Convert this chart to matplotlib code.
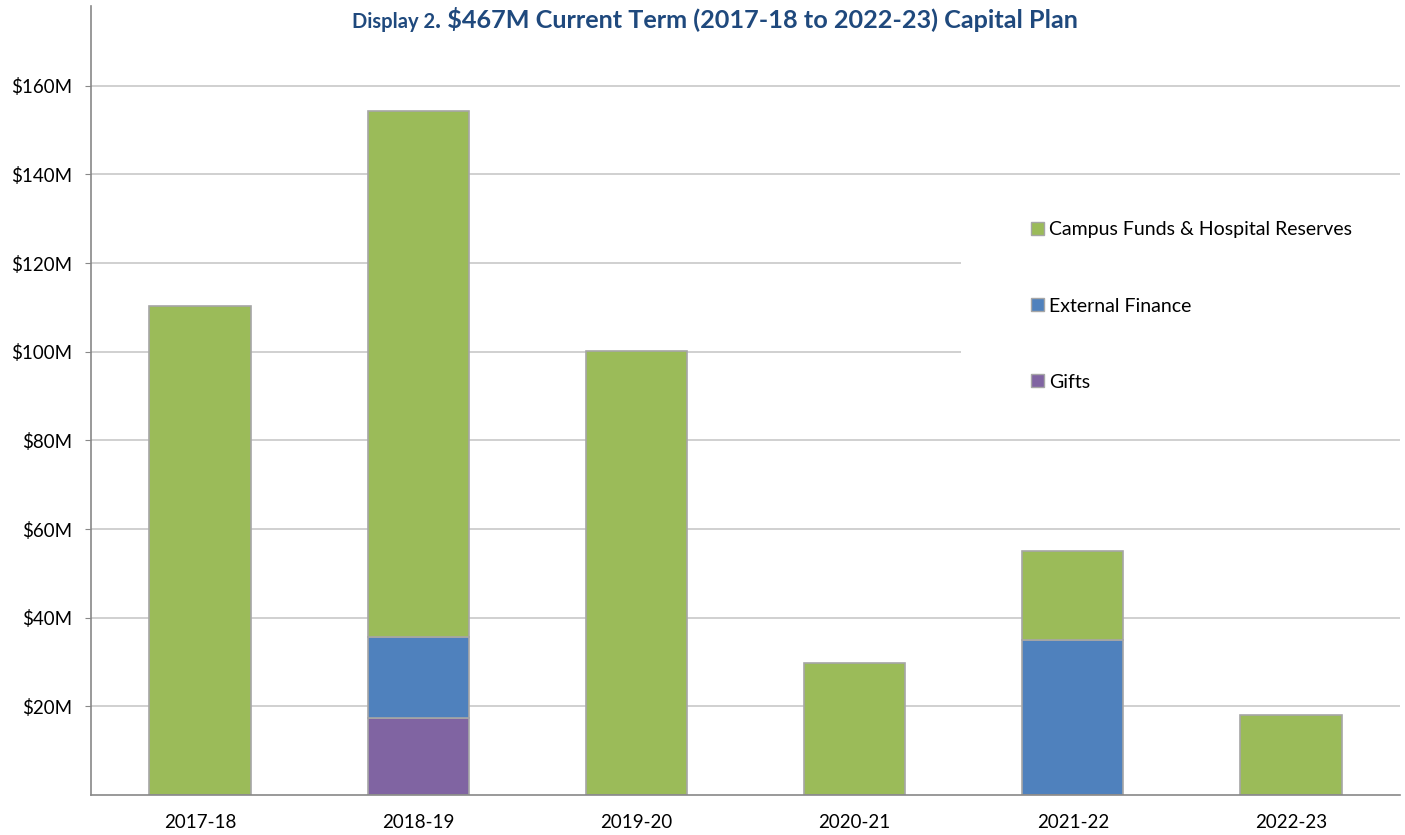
import matplotlib
matplotlib.use('Agg')
import matplotlib.pyplot as plt
from matplotlib.patches import Rectangle, Patch
from matplotlib.ticker import FuncFormatter
import numpy as np

years = ['2017-18', '2018-19', '2019-20', '2020-21', '2021-22', '2022-23']
gifts = [0, 17.4, 0, 0, 0, 0]
external_finance = [0, 18.3, 0, 0, 34.9, 0]
campus_funds = [110.4, 118.6, 100.1, 29.8, 20.2, 18.1]

green = '#9BBB59'
blue = '#4F81BD'
purple = '#8064A2'
edge = '#A6A6A6'
title_color = '#1F497D'

plt.rcParams['font.family'] = ['Lato', 'DejaVu Sans']

fig = plt.figure(figsize=(14.05, 8.35), dpi=100)
ax = fig.add_axes([91 / 1405, 1 - 795 / 835, 1309 / 1405, 789 / 835])

x = np.arange(len(years))
w = 0.465
ax.bar(x, gifts, w, color=purple, edgecolor=edge, linewidth=1.2, zorder=2)
ax.bar(x, external_finance, w, bottom=gifts, color=blue, edgecolor=edge, linewidth=1.2, zorder=2)
base = np.array(gifts) + np.array(external_finance)
ax.bar(x, campus_funds, w, bottom=base, color=green, edgecolor=edge, linewidth=1.2, zorder=2)

ax.set_xlim(-0.5, len(years) - 0.5)
ax.set_ylim(0, 178)
ax.set_yticks(range(20, 161, 20))
ax.yaxis.set_major_formatter(FuncFormatter(lambda v, p: f'${int(v)}M'))
ax.set_xticks(x)
ax.set_xticklabels(years)
ax.grid(axis='y', color='#C8C8C8', linewidth=1.2, zorder=0)
ax.set_axisbelow(True)
ax.tick_params(axis='y', length=4.5, color='#888888', labelsize=13.5, pad=9)
ax.tick_params(axis='x', length=0, labelsize=13.5, pad=14)
for s in ['top', 'right']:
    ax.spines[s].set_visible(False)
for s in ['left', 'bottom']:
    ax.spines[s].set_color('#888888')
    ax.spines[s].set_linewidth(1.2)

# white area behind the legend hides the gridlines
ax.add_patch(Rectangle((0.665, 0.456), 0.34, 0.323, transform=ax.transAxes,
                       facecolor='white', edgecolor='none', zorder=1, clip_on=False))

handles = [Patch(facecolor=green, edgecolor=edge),
           Patch(facecolor=blue, edgecolor=edge),
           Patch(facecolor=purple, edgecolor=edge)]
labels = ['Campus Funds & Hospital Reserves', 'External Finance', 'Gifts']
fig.legend(handles, labels, loc='center left', bbox_to_anchor=(1031 / 1405, 1 - 306 / 835),
           frameon=False, fontsize=14, handlelength=0.65, handleheight=0.65,
           handletextpad=0.3, labelspacing=3.05, borderpad=0, borderaxespad=0)

t1 = fig.text(352 / 1405, 1 - 28 / 835, 'Display 2', fontsize=14.5, fontweight='bold',
              color=title_color, va='baseline', ha='left')
fig.canvas.draw()
bb = t1.get_window_extent()
fig.text(bb.x1 / 1405, 1 - 28 / 835, '. $467M Current Term (2017-18 to 2022-23) Capital Plan',
         fontsize=18.2, fontweight='bold', color=title_color, va='baseline', ha='left')

fig.savefig('out.png', dpi=100)
